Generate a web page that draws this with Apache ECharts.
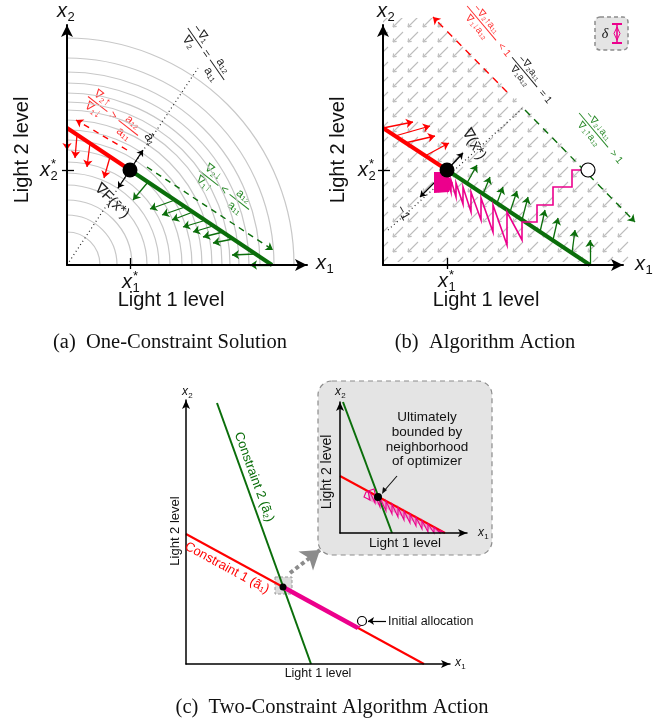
<!DOCTYPE html>
<html>
<head>
<meta charset="utf-8">
<script src="https://cdn.jsdelivr.net/npm/echarts@6/dist/echarts.min.js"></script>
<style>
  html, body { margin: 0; padding: 0; background: #fff; }
  #chart { width: 662px; height: 721px; }
</style>
</head>
<body>
<div id="chart"></div>
<script>
// ---- panel (a): one-constraint solution (axis units, origin at the axes corner) ----
const contourRadii = [33, 50, 65, 80, 92, 103, 115, 125, 135, 145, 155, 163, 172, 182, 193, 207, 227];
const aRedSegment = [[0, 137], [63, 95]];
const aGreenSegment = [[63, 95], [205, 0]];
const aOptimum = [63, 95];
const aGradientLine = [[0, 0], [131, 197]];
const aRedArrows = [
  [[0, 137], [0, 115]], [[10, 130], [8, 107]], [[23, 122], [20, 98]], [[43, 108], [37, 87]]
];
const aGreenArrows = [
  [[81, 83], [66, 65]], [[108, 65], [83, 56]], [[118, 58], [95, 50]], [[126, 53], [105, 45]],
  [[136, 44], [116, 38]], [[146, 39], [126, 33]], [[156, 33], [136, 28]], [[166, 26], [146, 22]],
  [[188, 11], [165, 10]], [[205, 0], [183, 0]]
];
const aRedDashed = [[60, 115], [9, 145]];
const aGreenDashed = [[80, 98], [206, 15]];
const aGradArrows = [[[63, 95], [76, 115]], [[63, 95], [51, 77]]];
const aTicks = [[[63, 7], [63, -4]], [[-5, 95], [7, 95]]];

// ---- panel (b): algorithm action ----
const bField = [[0, 247], [53, 247], [247, 53], [247, 3], [0, 3]];
const bRedSegment = [[0, 137], [64, 95]];
const bGreenSegment = [[64, 95], [207, 0]];
const bOptimum = [64, 95];
const bStart = [205, 95];
const bDotted = [[5, 35], [140, 157]];
const bRedArrows = [
  [[0, 137], [30, 143]], [[12, 129], [47, 139]], [[22, 122], [52, 129]], [[42, 109], [66, 122]]
];
const bGreenArrows = [
  [[84, 82], [94, 100]], [[100, 71], [107, 88]], [[114, 62], [120, 78]], [[127, 53], [134, 74]],
  [[139, 45], [145, 68]], [[157, 33], [162, 55]], [[170, 25], [175, 47]], [[189, 12], [192, 35]],
  [[207, 0], [207, 25]]
];
const bRedDashed = [[124, 173], [50, 248]];
const bGreenDashed = [[142, 155], [252, 43]];
const bGradArrows = [[[64, 95], [80, 112]], [[64, 95], [37, 68]]];
const bPath = [
  [205, 95], [189, 95], [189, 78], [170, 78], [170, 60], [154, 60], [154, 43], [139, 43],
  [139, 25], [124, 53], [124, 20], [110, 60], [110, 33], [98, 67], [98, 45], [88, 73],
  [88, 53], [80, 78], [80, 61], [73, 82], [73, 68], [68, 85], [68, 73], [64, 88], [64, 77], [61, 90]
];
const bCluster = [[51, 93], [63, 93], [70, 82], [66, 73], [51, 72]];
const bTicks = [[[64, 7], [64, -4]], [[-5, 95], [7, 95]]];

// ---- panel (c): two constraints ----
const cConstraint1 = [[0, 130], [238, 0]];
const cConstraint2 = [[31, 261], [125, 0]];
const cOptimum = [97, 77];
const cTrace = [[97, 77], [172, 36]];
const cTraceEnd = [[172, 36], [176, 40]];
const cStart = [176, 43];
const cZoomBox = [[89, 87], [106, 70]];
const cZoomArrow = [[104, 91], [134, 114]];
const cStartPointer = [[200, 43], [182, 43]];

// ---- panel (c) inset ----
const iConstraint1 = [[0, 57], [105, 0]];
const iConstraint2 = [[3, 131], [52, 0]];
const iOptimum = [38, 36];
const iTrace = [
  [104, 0.5], [100, 2.7], [100, 0], [94, 6], [94, 0], [88, 9.2], [88, 1], [82, 12.5], [82, 4],
  [76, 15.7], [76, 7], [70, 19], [70, 10], [64, 22.2], [64, 13], [58, 25.5], [58, 16],
  [52, 28.8], [52, 19], [46, 32], [46, 22], [40, 35.3], [40, 26], [35, 38], [35, 30],
  [30, 41], [26, 41], [24, 36], [30, 33], [28, 42], [34, 44], [36, 36]
];
const iBand = [[28, 42], [105, 0], [97, 0], [28, 33]];

const RED = '#ff0000';
const GREEN = '#0b6e0b';
const MAGENTA = '#ec008c';

// small tile with one gray gradient arrow, repeated as the field texture
const tile = document.createElement('canvas');
tile.width = 15; tile.height = 15;
const tg = tile.getContext('2d');
tg.strokeStyle = '#bdbdbd';
tg.lineWidth = 1.1;
tg.beginPath(); tg.moveTo(13, 2); tg.lineTo(3, 12); tg.stroke();
tg.beginPath(); tg.moveTo(3, 12); tg.lineTo(3.6, 8.3); tg.moveTo(3, 12); tg.lineTo(6.7, 11.4); tg.stroke();

function segs(gi, list, color, width, opt) {
  opt = opt || {};
  return {
    type: 'lines', coordinateSystem: 'cartesian2d', xAxisIndex: gi, yAxisIndex: gi,
    polyline: !!opt.polyline, clip: false, silent: true,
    symbol: opt.arrow ? ['none', 'arrow'] : 'none', symbolSize: opt.size || 7,
    lineStyle: { color, width, type: opt.dash || 'solid', opacity: 1, cap: opt.cap || 'butt' },
    data: list.map(c => ({ coords: c })),
    z: opt.z || 3
  };
}

function polygon(gi, pts, style, z) {
  return {
    type: 'custom', coordinateSystem: 'cartesian2d', xAxisIndex: gi, yAxisIndex: gi,
    clip: false, silent: true, z: z || 2, data: [[0, 0]],
    renderItem: (p, api) => ({ type: 'polygon', shape: { points: pts.map(pt => api.coord(pt)) }, style })
  };
}

function dot(gi, pt, size, fill, border) {
  return {
    type: 'scatter', xAxisIndex: gi, yAxisIndex: gi, data: [pt], symbolSize: size, silent: true, z: 8,
    itemStyle: { color: fill, borderColor: border || fill, borderWidth: border ? 1.2 : 0, opacity: 1 }
  };
}

function xAx(gi, max, w, sym) {
  return {
    gridIndex: gi, type: 'value', min: 0, max, z: 5,
    axisLine: { show: true, onZero: false, symbol: ['none', 'arrow'], symbolSize: sym, lineStyle: { color: '#000', width: w } },
    axisTick: { show: false }, axisLabel: { show: false }, splitLine: { show: false }
  };
}

// ---- text helpers ----
function txt(x, y, text, o) {
  o = o || {};
  return {
    type: 'text', x, y, rotation: (o.rot || 0) * Math.PI / 180, z: 20,
    style: { text, fill: o.color || '#111', font: o.font || '18px "Liberation Sans"',
      align: o.align || 'center', verticalAlign: 'middle' }
  };
}

function xvar(x, y, idx, star, size) {
  const small = Math.round(size * 0.65) + 'px "Liberation Sans"';
  const kids = [
    { type: 'text', x: 0, y: 0, style: { text: 'x', font: 'italic ' + size + 'px "Liberation Sans"', fill: '#111', align: 'left', verticalAlign: 'middle' } },
    { type: 'text', x: size * 0.52, y: size * 0.32, style: { text: idx, font: small, fill: '#111', align: 'left', verticalAlign: 'middle' } }
  ];
  if (star) kids.push({ type: 'text', x: size * 0.55, y: -size * 0.3, style: { text: '*', font: small, fill: '#111', align: 'left', verticalAlign: 'middle' } });
  return { type: 'group', x, y, z: 20, children: kids };
}

function frac(x, y, deg, parts, color, fs) {
  const cw = fs * 0.6;
  const items = parts.map(p => ({ p, w: (Array.isArray(p) ? Math.max(p[0].length, p[1].length) : p.length) * cw + 5 }));
  let cx = -items.reduce((s, it) => s + it.w, 0) / 2;
  const font = fs + 'px "Liberation Sans"';
  const kids = [];
  items.forEach(({ p, w }) => {
    const mid = cx + w / 2;
    if (Array.isArray(p)) {
      kids.push({ type: 'text', x: mid, y: -fs * 0.6, style: { text: p[0], fill: color, font, align: 'center', verticalAlign: 'middle' } });
      kids.push({ type: 'text', x: mid, y: fs * 0.65, style: { text: p[1], fill: color, font, align: 'center', verticalAlign: 'middle' } });
      kids.push({ type: 'line', shape: { x1: cx + 1, y1: 0, x2: cx + w - 1, y2: 0 }, style: { stroke: color, lineWidth: 1 } });
    } else {
      kids.push({ type: 'text', x: mid, y: 0, style: { text: p, fill: color, font, align: 'center', verticalAlign: 'middle' } });
    }
    cx += w;
  });
  return { type: 'group', x, y, rotation: -deg * Math.PI / 180, z: 20, children: kids };
}

const chart = echarts.init(document.getElementById('chart'));

const option = {
  animation: false,
  grid: [
    { left: 67, top: 25, width: 240, height: 240 },
    { left: 383, top: 25, width: 240, height: 240 },
    { left: 186, top: 400, width: 264, height: 264 },
    { left: 340, top: 402, width: 127, height: 131 }
  ],
  xAxis: [xAx(0, 240, 2, [9, 12]), xAx(1, 240, 2, [9, 12]), xAx(2, 264, 1.5, [6, 9]), xAx(3, 127, 1.5, [6, 9])],
  yAxis: [xAx(0, 240, 2, [9, 12]), xAx(1, 240, 2, [9, 12]), xAx(2, 264, 1.5, [6, 9]), xAx(3, 131, 1.5, [6, 9])],
  series: [
    // (a)
    {
      type: 'custom', coordinateSystem: 'cartesian2d', xAxisIndex: 0, yAxisIndex: 0, clip: false, silent: true, z: 1,
      data: contourRadii.map(r => [r, 0]),
      renderItem: (p, api) => {
        const c = api.coord([0, 0]);
        const r = api.size([api.value(0), 0])[0];
        return { type: 'arc', shape: { cx: c[0], cy: c[1], r, startAngle: -Math.PI / 2, endAngle: 0, clockwise: true },
          style: { stroke: '#c8c8c8', lineWidth: 1.2, fill: null } };
      }
    },
    segs(0, [aGradientLine], '#222', 1.2, { dash: [1, 3] }),
    segs(0, [aRedSegment], RED, 4, { z: 4 }),
    segs(0, [aGreenSegment], GREEN, 4, { z: 4 }),
    segs(0, aRedArrows, RED, 1.3, { arrow: true }),
    segs(0, [aRedDashed], RED, 1.4, { arrow: true, dash: [6, 5] }),
    segs(0, aGreenArrows, GREEN, 1.3, { arrow: true }),
    segs(0, [aGreenDashed], GREEN, 1.4, { arrow: true, dash: [6, 5] }),
    segs(0, aGradArrows, '#000', 1.3, { arrow: true, size: 6 }),
    segs(0, aTicks, '#000', 1.3),
    dot(0, aOptimum, 15, '#000'),

    // (b)
    polygon(1, bField, { fill: { image: tile, repeat: 'repeat' }, stroke: null }, 1),
    segs(1, [bDotted], '#222', 1.2, { dash: [1, 3] }),
    segs(1, [bRedDashed], RED, 1.4, { arrow: true, dash: [7, 6] }),
    segs(1, [bGreenDashed], GREEN, 1.4, { arrow: true, dash: [7, 6] }),
    segs(1, [bRedSegment], RED, 4, { z: 4 }),
    segs(1, [bGreenSegment], GREEN, 4, { z: 4 }),
    segs(1, bRedArrows, RED, 1.3, { arrow: true }),
    segs(1, bGreenArrows, GREEN, 1.3, { arrow: true }),
    polygon(1, bCluster, { fill: MAGENTA, stroke: null }, 5),
    segs(1, [bPath], MAGENTA, 1.6, { polyline: true, z: 5 }),
    segs(1, bGradArrows, '#000', 1.3, { arrow: true, size: 6 }),
    segs(1, bTicks, '#000', 1.3),
    dot(1, bOptimum, 15, '#000'),
    dot(1, bStart, 14, '#fff', '#000'),

    // (c)
    segs(2, [cConstraint2], GREEN, 2),
    segs(2, [cConstraint1], RED, 2),
    polygon(2, [cZoomBox[0], [cZoomBox[1][0], cZoomBox[0][1]], cZoomBox[1], [cZoomBox[0][0], cZoomBox[1][1]]],
      { fill: 'rgba(190,190,190,0.55)', stroke: '#999', lineWidth: 1, lineDash: [3, 2] }, 2),
    segs(2, [cTrace], MAGENTA, 4.5, { z: 4 }),
    segs(2, [cTraceEnd], MAGENTA, 1.5, { z: 4 }),
    segs(2, [cZoomArrow], '#8c8c8c', 4, { arrow: true, size: 18, dash: [4, 3] }),
    segs(2, [cStartPointer], '#000', 1.2, { arrow: true, size: 6 }),
    dot(2, cOptimum, 7, '#000'),
    dot(2, cStart, 9, '#fff', '#000'),

    // inset
    polygon(3, iBand, { fill: 'rgba(236,0,140,0.28)', stroke: null }, 2),
    segs(3, [iConstraint2], GREEN, 2),
    segs(3, [iConstraint1], RED, 2),
    segs(3, [iTrace], MAGENTA, 1.1, { polyline: true, z: 4 }),
    dot(3, iOptimum, 8, '#000')
  ],
  graphic: [
    // inset frame
    { type: 'rect', z: -1, shape: { x: 318, y: 381, width: 174, height: 174, r: 14 },
      style: { fill: '#e4e4e4', stroke: '#8c8c8c', lineWidth: 1.2, lineDash: [5, 4] } },
    // delta legend box
    { type: 'rect', z: 10, shape: { x: 595, y: 17, width: 33, height: 33, r: 5 },
      style: { fill: '#e4e4e4', stroke: '#8c8c8c', lineWidth: 1.5, lineDash: [4, 3] } },
    txt(605, 34, 'δ', { font: 'italic 14px "Liberation Serif"' }),
    { type: 'line', z: 11, shape: { x1: 617, y1: 24, x2: 617, y2: 43 }, style: { stroke: MAGENTA, lineWidth: 1.6 } },
    { type: 'line', z: 11, shape: { x1: 612, y1: 24, x2: 622, y2: 24 }, style: { stroke: MAGENTA, lineWidth: 2 } },
    { type: 'line', z: 11, shape: { x1: 612, y1: 43, x2: 622, y2: 43 }, style: { stroke: MAGENTA, lineWidth: 2 } },
    { type: 'polygon', z: 11, shape: { points: [[617, 27], [620, 33.5], [617, 40], [614, 33.5]] }, style: { fill: 'none', stroke: MAGENTA, lineWidth: 1 } },

    // (a) labels
    xvar(57, 11, '2', false, 20),
    xvar(316, 263, '1', false, 20),
    xvar(40, 170, '2', true, 20),
    xvar(122, 282, '1', true, 20),
    txt(22, 150, 'Light 2 level', { rot: 90, font: '20px "Liberation Sans"' }),
    txt(171, 300, 'Light 1 level', { font: '20px "Liberation Sans"' }),
    frac(206, 54, 55, [['−∇₁', '∇₂'], '=', ['a₁₂', 'a₁₁']], '#222', 12),
    frac(113, 116, 38, [['∇₂↑', '∇₁↓'], '>', ['a₁₂', 'a₁₁']], '#ff3030', 12),
    frac(224, 190, 38, [['∇₂↓', '∇₁↑'], '<', ['a₁₂', 'a₁₁']], '#2a8a2a', 12),
    txt(150, 139, 'ā₁', { rot: -60, font: '13px "Liberation Sans"', color: '#222' }),
    txt(112, 201, '∇F(x̄*)', { rot: -45, font: '15px "Liberation Sans"', color: '#222' }),

    // (b) labels
    xvar(377, 11, '2', false, 20),
    xvar(635, 264, '1', false, 20),
    xvar(358, 170, '2', true, 20),
    xvar(438, 281, '1', true, 20),
    txt(338, 150, 'Light 2 level', { rot: 90, font: '20px "Liberation Sans"' }),
    txt(486, 300, 'Light 1 level', { font: '20px "Liberation Sans"' }),
    frac(489, 32, 50, [['−∇₂↑a₁₁', '∇₁↓a₁₂'], '< 1'], '#ff3030', 10),
    frac(532, 81, 50, [['−∇₂a₁₁', '∇₁a₁₂'], '= 1'], '#222', 10),
    frac(601, 139, 50, [['−∇₂↓a₁₁', '∇₁↑a₁₂'], '> 1'], '#2a8a2a', 10),
    txt(474, 144, '∇(x̄*)', { rot: -60, font: '15px "Liberation Sans"', color: '#222' }),
    txt(403, 213, '−1', { rot: -60, font: '13px "Liberation Sans"', color: '#222' }),

    // (c) labels
    xvar(182, 392, '2', false, 12),
    xvar(455, 663, '1', false, 12),
    txt(175, 531, 'Light 2 level', { rot: 90, font: '13px "Liberation Sans"' }),
    txt(318, 674, 'Light 1 level', { font: '12.5px "Liberation Sans"' }),
    txt(254, 477, 'Constraint 2 (ã₂)', { rot: -70, font: '13px "Liberation Sans"', color: GREEN }),
    txt(227, 568, 'Constraint 1 (ã₁)', { rot: -28.6, font: '13px "Liberation Sans"', color: RED }),
    txt(388, 622, 'Initial allocation', { align: 'left', font: '12.5px "Liberation Sans"' }),
    xvar(335, 392, '2', false, 12),
    xvar(478, 533, '1', false, 12),
    txt(327, 472, 'Light 2 level', { rot: 90, font: '14px "Liberation Sans"' }),
    txt(405, 543, 'Light 1 level', { font: '13.5px "Liberation Sans"' }),
    txt(427, 417, 'Ultimately', { font: '13.5px "Liberation Sans"' }),
    txt(427, 432, 'bounded by', { font: '13.5px "Liberation Sans"' }),
    txt(427, 447, 'neighborhood', { font: '13.5px "Liberation Sans"' }),
    txt(427, 461, 'of optimizer', { font: '13.5px "Liberation Sans"' }),
    { type: 'line', z: 20, shape: { x1: 397, y1: 476, x2: 384, y2: 491 }, style: { stroke: '#111', lineWidth: 1.1 } },
    { type: 'polygon', z: 20, shape: { points: [[382, 494], [383, 487], [387, 490]] }, style: { fill: '#111' } },

    // captions
    txt(170, 343, '(a)  One-Constraint Solution', { font: '20.5px "Liberation Serif"' }),
    txt(485, 343, '(b)  Algorithm Action', { font: '20.5px "Liberation Serif"' }),
    txt(332, 708, '(c)  Two-Constraint Algorithm Action', { font: '20.5px "Liberation Serif"' })
  ]
};

chart.setOption(option);
</script>
</body>
</html>
